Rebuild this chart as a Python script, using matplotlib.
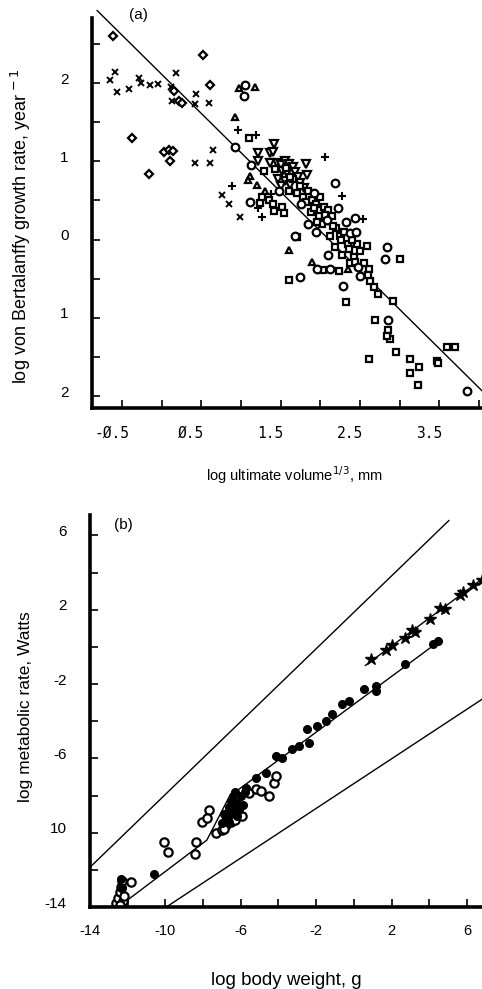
import numpy as np
import matplotlib
matplotlib.use('Agg')
import matplotlib.pyplot as plt
from matplotlib.transforms import ScaledTranslation

plt.rcParams['font.family'] = ['Liberation Sans', 'DejaVu Sans']

# ---------- panel (a): growth rate vs ultimate volume ----------
cross_x = [-0.585, -0.648, -0.563, -0.408, -0.29, -0.256, -0.143, -0.046, 0.18, 0.118, 0.131,
           0.438, 0.417, 0.602, 0.644, 0.417, 0.614, 0.76, 0.846, 0.99]
cross_y = [2.14, 2.04, 1.89, 1.92, 2.07, 2.0, 1.98, 1.99, 2.13, 1.95, 1.77,
           1.86, 1.73, 1.75, 1.15, 0.98, 0.98, 0.57, 0.455, 0.29]
diam_x = [-0.617, 0.152, 0.223, 0.257, 0.518, 0.614, -0.38, 0.026, 0.089, 0.14, 0.11, -0.163]
diam_y = [2.60, 1.90, 1.77, 1.74, 2.36, 1.97, 1.30, 1.125, 1.15, 1.13, 1.0, 0.84]
tri_x = [0.973, 1.17, 0.93, 1.11, 1.09, 1.6, 1.90, 2.35, 1.20, 1.30]
tri_y = [1.94, 1.95, 1.57, 0.81, 0.76, -0.13, -0.285, -0.38, 0.70, 0.62]
plus_x = [0.96, 1.19, 0.88, 2.06, 2.27, 1.26, 2.54, 1.38, 1.22]
plus_y = [1.40, 1.34, 0.69, 1.06, 0.56, 0.29, 0.26, 0.58, 0.40]
circ_x = [1.035, 1.048, 0.92, 1.13, 2.19, 1.11, 2.44, 2.38, 2.84, 2.82, 1.75, 2.29, 2.5, 2.86,
          3.85, 1.68, 1.96, 2.12, 1.48, 1.76, 1.92, 2.08, 2.22, 2.32, 1.85, 2.45, 2.10, 2.48, 1.95]
circ_y = [1.83, 1.98, 1.18, 0.95, 0.72, 0.48, 0.28, 0.09, -0.10, -0.25, -0.48, -0.59, -0.47, -1.02,
          -1.93, 0.04, -0.38, -0.38, 0.62, 0.45, 0.60, 0.25, 0.40, 0.22, 0.20, 0.10, -0.20, -0.35, 0.10]
sq_x = [1.10, 1.29, 1.24, 1.26, 1.41, 1.52, 1.54, 1.70, 2.59, 2.46, 3.0, 2.04, 2.23, 1.60, 2.33,
        2.62, 2.63, 2.68, 2.73, 2.92, 2.69, 2.86, 2.88, 2.84, 2.96, 2.61, 3.13, 3.25, 3.13, 3.23,
        3.47, 3.48, 3.60, 3.70, 1.43, 1.57, 1.66, 1.60, 1.70, 1.78, 1.85, 1.90, 1.95, 2.00, 2.05,
        2.10, 1.88, 1.98, 2.15, 2.02, 2.20, 2.25, 2.30, 2.12, 2.35, 2.40, 2.18, 2.28, 2.42, 2.50,
        2.38, 2.55, 2.60, 1.35, 1.40, 1.62, 1.74, 1.82, 1.92, 2.06, 2.16, 2.26, 2.36, 2.44, 1.96]
sq_y = [1.30, 0.88, 0.47, 0.55, 0.37, 0.42, 0.34, 0.03, -0.085, -0.06, -0.25, -0.39, -0.40, -0.52, -0.80,
        -0.38, -0.53, -0.61, -0.70, -0.79, -1.02, -1.15, -1.27, -1.23, -1.44, -1.52, -1.53, -1.63, -1.70, -1.85,
        -1.55, -1.58, -1.37, -1.37, 0.90, 0.92, 0.78, 0.62, 0.60, 0.55, 0.62, 0.50, 0.45, 0.55, 0.42,
        0.38, 0.35, 0.30, 0.30, 0.20, 0.15, 0.05, 0.10, 0.05, -0.05, 0.00, -0.10, -0.20, -0.22, -0.15,
        -0.30, -0.30, -0.45, 0.50, 0.45, 0.80, 0.68, 0.48, 0.40, 0.32, 0.18, 0.00, -0.12, -0.28, 0.22]
inv_x = [1.42, 1.22, 1.37, 1.40, 1.21, 1.37, 1.82, 1.83, 1.45, 1.50, 1.55, 1.60, 1.65, 1.52, 1.58,
         1.68, 1.72, 1.47, 1.55, 1.62, 1.75, 1.80, 1.50]
inv_y = [1.22, 1.10, 1.10, 1.125, 1.01, 0.98, 0.97, 0.83, 0.98, 0.95, 1.00, 0.97, 0.93, 0.88, 0.85,
         0.86, 0.80, 0.78, 0.75, 0.70, 0.72, 0.66, 0.68]
fit_a_x = [-0.815, 4.04]
fit_a_y = [2.925, -1.93]

# ---------- panel (b): metabolic rate vs body weight ----------
uni_x = [-12.6, -12.5, -12.4, -12.35, -12.3, -12.25, -12.2, -12.4, -11.8, -10.1, -9.84, -8.4, -8.45,
         -8.08, -7.7, -7.8, -7.33, -7.0, -5.95, -5.57, -5.2, -4.93, -4.5, -4.24, -4.13, -6.8, -6.5,
         -6.3, -6.9]
uni_y = [-13.8, -13.5, -13.2, -12.9, -12.6, -13.7, -13.4, -13.9, -12.66, -10.52, -11.06, -10.5, -11.17,
         -9.45, -8.76, -9.19, -9.99, -9.88, -9.08, -7.85, -7.64, -7.74, -8.0, -7.32, -6.94, -9.6, -9.4,
         -9.3, -9.8]
dot_x = [-12.35, -12.3, -10.6, -7.0, -6.8, -6.7, -6.6, -6.5, -6.4, -6.3, -6.2, -6.1, -6.0, -6.5, -6.9,
         -6.2, -5.9, -6.4, -6.6, -5.8, -5.73, -5.2, -4.67, -4.13, -3.81, -3.28, -2.9, -2.48, -2.37,
         -1.95, -1.47, -1.15, -0.61, -0.24, 0.56, 1.2, 1.2, 2.69, 4.19, 4.45]
dot_y = [-12.5, -13.0, -12.2, -9.5, -9.2, -8.9, -8.6, -8.3, -8.0, -7.8, -8.4, -8.8, -8.0, -9.0, -9.0,
         -9.1, -8.5, -8.7, -9.4, -7.8, -7.58, -7.05, -6.78, -5.87, -5.98, -5.5, -5.34, -4.43, -5.18,
         -4.27, -4.0, -3.63, -3.09, -2.93, -2.29, -2.13, -2.4, -0.9, 0.17, 0.33]
star_x = [0.93, 1.73, 2.0, 2.69, 3.07, 3.23, 4.03, 4.56, 4.83, 5.63, 5.79, 6.32, 6.8]
star_y = [-0.63, -0.15, 0.12, 0.49, 0.92, 0.81, 1.51, 2.1, 2.04, 2.79, 2.95, 3.33, 3.6]
upper_x = [-14.0, 5.04]
upper_y = [-11.86, 6.8]
lower_x = [-9.95, 6.8]
lower_y = [-14.0, -2.82]
mid_x = [-12.3, -7.8, -6.6, 4.56]
mid_y = [-13.85, -10.4, -8.04, 0.33]
homeo_x = [0.61, 6.8]
homeo_y = [-1.0, 3.65]

fig = plt.figure(figsize=(4.82, 9.89), dpi=100)
ax1 = fig.add_axes([92 / 482, 581 / 989, 390 / 482, 390 / 989])
ax2 = fig.add_axes([90 / 482, 82 / 989, 392 / 482, 392 / 989])


def style_axes(ax):
    for s in ['top', 'right']:
        ax.spines[s].set_visible(False)
    for s in ['left', 'bottom']:
        ax.spines[s].set_linewidth(2.6)
    ax.tick_params(direction='in', length=6, width=1.2, colors='black')


def shift_labels(labels, dx, dy):
    off = ScaledTranslation(dx / 100, dy / 100, fig.dpi_scale_trans)
    for lab in labels:
        lab.set_transform(lab.get_transform() + off)


open_kw = dict(mfc='white', mec='black', ls='none', mew=1.6)

# panel (a)
ax1.plot(fit_a_x, fit_a_y, color='black', lw=1.0, clip_on=False, zorder=1)
ax1.plot(cross_x, cross_y, 'x', color='black', ms=4.5, mew=1.4)
ax1.plot(diam_x, diam_y, 'D', ms=4, **open_kw)
ax1.plot(tri_x, tri_y, '^', ms=5, **open_kw)
ax1.plot(plus_x, plus_y, '+', color='black', ms=5.5, mew=1.5)
ax1.plot(inv_x, inv_y, 'v', ms=5.5, **open_kw)
ax1.plot(sq_x, sq_y, 's', ms=5, **open_kw)
ax1.plot(circ_x, circ_y, 'o', ms=5.5, **open_kw)

style_axes(ax1)
ax1.set_xlim(-0.88, 4.04)
ax1.set_ylim(-2.15, 2.83)
xt = np.arange(-0.5, 4.01, 0.5)
ax1.set_xticks(xt)
ax1.set_xticklabels([('%.1f' % v).replace('0', '\u00d8') if i % 2 == 0 else '' for i, v in enumerate(xt)],
                    family='DejaVu Sans Mono', fontsize=10.5)
yt = np.arange(-2.0, 2.51, 0.5)
ax1.set_yticks(yt)
ylab_a = {-2.0: '2', -1.0: '1', 0.0: '0', 1.0: '1', 2.0: '2'}
ax1.set_yticklabels([ylab_a.get(v, '') for v in yt], fontsize=11)
ax1.tick_params(axis='y', pad=17)
ax1.tick_params(axis='x', pad=13)
shift_labels(ax1.get_xticklabels(), -10, 0)
shift_labels(ax1.get_yticklabels(), 0, 5)
ax1.set_ylabel('log von Bertalanffy growth rate, year$^{\\,-1}$', fontsize=13)
ax1.yaxis.set_label_coords(-0.15, 0.467)
ax1.set_xlabel('log ultimate volume$^{1/3}$, mm', fontsize=10.5)
ax1.xaxis.set_label_coords(0.52, -0.145)
ax1.text(0.118, 1.008, '(a)', transform=ax1.transAxes, ha='center', va='center', fontsize=11)

# panel (b)
for lx, ly in [(upper_x, upper_y), (lower_x, lower_y), (mid_x, mid_y), (homeo_x, homeo_y)]:
    ax2.plot(lx, ly, color='black', lw=1.0, zorder=1)
ax2.plot(uni_x, uni_y, 'o', ms=6, **open_kw)
ax2.plot(dot_x, dot_y, 'o', color='black', ms=5.5)
ax2.plot(star_x, star_y, '*', color='black', ms=9)

style_axes(ax2)
ax2.set_xlim(-14, 6.8)
ax2.set_ylim(-14, 7.1)
xt2 = np.arange(-14, 7, 2)
ax2.set_xticks(xt2)
ax2.set_xticklabels(['%d' % v if (v + 14) % 4 == 0 else '' for v in xt2], fontsize=10.5)
yt2 = np.arange(-14, 7, 2)
ax2.set_yticks(yt2)
ylab_b = {6: '6', 2: '2', -2: '-2', -6: '-6', -10: '10', -14: '-14'}
ax2.set_yticklabels([ylab_b.get(int(v), '') for v in yt2], fontsize=11)
ax2.tick_params(axis='y', pad=17)
ax2.tick_params(axis='x', pad=12)
shift_labels(ax2.get_yticklabels(), 0, 5)
ax2.set_ylabel('log metabolic rate, Watts', fontsize=12.5)
ax2.yaxis.set_label_coords(-0.145, 0.51)
ax2.set_xlabel('log body weight, g', fontsize=13.5)
ax2.xaxis.set_label_coords(0.5, -0.165)
ax2.text(0.084, 0.974, '(b)', transform=ax2.transAxes, ha='center', va='center', fontsize=11)

fig.savefig('out.png', dpi=100)
